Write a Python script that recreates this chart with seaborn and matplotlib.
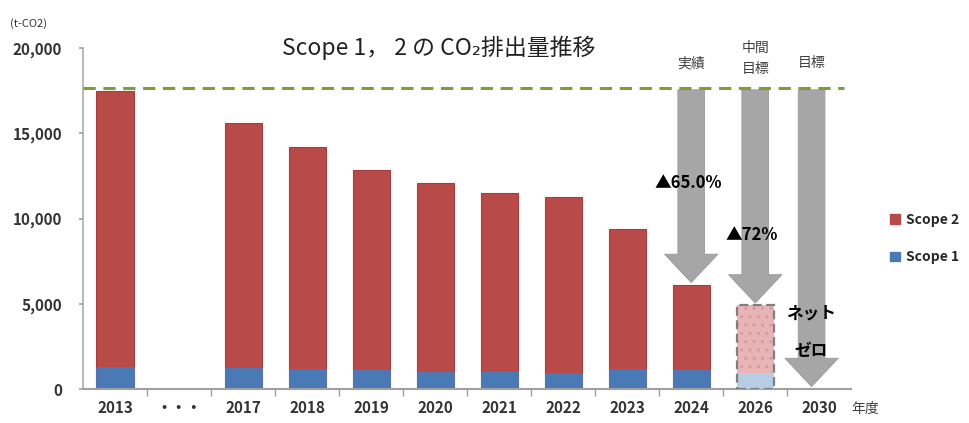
import numpy as np
import pandas as pd
import matplotlib.pyplot as plt
import matplotlib.patches as mpatches
import seaborn as sns

# Data (t-CO2)
years = ["2013", "・・・", "2017", "2018", "2019", "2020", "2021", "2022", "2023", "2024", "2026", "2030"]
actual_years = ["2013", "2017", "2018", "2019", "2020", "2021", "2022", "2023", "2024"]
total = [17500, 15610, 14180, 12850, 12110, 11520, 11290, 9390, 6100]
scope1 = [1290, 1230, 1170, 1110, 1000, 1060, 940, 1170, 1110]
target_year = "2026"
target_total = 4930
target_scope1 = 940
baseline = 17650
arrow_years = ["2024", "2026", "2030"]
arrow_tips = [6250, 5050, 150]
arrow_labels = ["実績", "中間\n目標", "目標"]
reduction_labels = ["▲65.0%", "▲72%"]

df = pd.DataFrame({"year": actual_years, "total": total, "scope1": scope1})

sns.set_theme(style="white")
plt.rcParams['font.family'] = ['Noto Sans CJK JP', 'DejaVu Sans']

red = "#b84a48"
blue = "#4a7ab6"
gray_arrow = "#a6a6a6"
text_c = "#333333"

fig = plt.figure(figsize=(9.7, 4.23), dpi=100)
ax = fig.add_axes([0.0856, 0.080, 0.792, 0.8065])

sns.barplot(data=df, x="year", y="total", order=years, color=red, saturation=1,
            width=0.58, ax=ax, edgecolor="#a83c3a", linewidth=0.8)
sns.barplot(data=df, x="year", y="scope1", order=years, color=blue, saturation=1,
            width=0.58, ax=ax, edgecolor=blue, linewidth=0.5)

# 2026 target bar
ti = years.index(target_year)
ax.bar(ti, target_scope1, width=0.58, color="#b8cce4", edgecolor="none", zorder=3)
ax.bar(ti, target_total - target_scope1, bottom=target_scope1, width=0.58,
       color="#e8b4b6", edgecolor="#d49a9c", hatch="..", linewidth=0, zorder=3)
ax.bar(ti, target_total, width=0.58, fill=False, edgecolor="#7f7f7f",
       linestyle=(0, (4, 2)), linewidth=1.6, zorder=4)

# baseline
ax.axhline(baseline, xmin=0, xmax=0.99, color="#76a03a", linestyle=(0, (4, 2.5)),
           linewidth=2.2, zorder=5)

# arrows
offsets = [0, 0, -0.12]
for yr, tip, off in zip(arrow_years, arrow_tips, offsets):
    xi = years.index(yr) + off
    ax.annotate("", xy=(xi, tip), xytext=(xi, baseline - 100),
                arrowprops=dict(arrowstyle="simple,head_width=3.2,head_length=1.7,tail_width=1.6",
                                fc=gray_arrow, ec="#999999", lw=0.6,
                                shrinkA=0, shrinkB=0), zorder=4)

# labels above arrows
lab_y = [19100, 19400, 19100]
for yr, lab, off, ly in zip(arrow_years, arrow_labels, offsets, lab_y):
    xi = years.index(yr) + off
    ax.text(xi, ly, lab, ha="center", va="center", fontsize=10, color="#404040",
            linespacing=1.6, clip_on=False, zorder=6)

ax.text(years.index("2024") - 0.05, 12100, reduction_labels[0], ha="center", va="center",
        fontsize=12, color="black", fontweight="bold", zorder=6)
ax.text(years.index("2026") - 0.05, 9050, reduction_labels[1], ha="center", va="center",
        fontsize=12, color="black", fontweight="bold", zorder=6)
ax.text(years.index("2030") - 0.13, 4420, "ネット", ha="center", va="center",
        fontsize=12, color="black", fontweight="bold", zorder=6)
ax.text(years.index("2030") - 0.12, 2250, "ゼロ", ha="center", va="center",
        fontsize=12, color="black", fontweight="bold", zorder=6)

# title
ax.text(5.05, 20000, "Scope 1， 2 の CO₂排出量推移", ha="center", va="center",
        fontsize=16.5, color="#222222", zorder=6)

# axes styling
ax.set_xlim(-0.5, len(years) - 0.5)
ax.set_ylim(0, 20000)
ax.set_yticks([0, 5000, 10000, 15000, 20000])
ax.set_yticklabels([f"{v:,}" for v in [0, 5000, 10000, 15000, 20000]],
                   fontsize=11, color=text_c, fontweight="bold")
ax.set_xticks(range(len(years)))
ax.set_xticklabels(years, fontsize=11, color=text_c, fontweight="bold")
ax.set_xticks(np.arange(0.5, len(years) - 0.5, 1), minor=True)
ax.tick_params(axis="x", which="major", length=0, pad=8)
ax.tick_params(axis="x", which="minor", length=5, color="#a0a0a0", width=1, direction="out", bottom=True)
ax.tick_params(axis="y", which="major", length=3, color="#a0a0a0", pad=12, left=True)
ax.set_xlabel("")
ax.set_ylabel("")
for s in ["top", "right"]:
    ax.spines[s].set_visible(False)
ax.spines["left"].set_color("#b0b0b0")
ax.spines["bottom"].set_color("#a0a0a0")
ax.spines["bottom"].set_linewidth(1.5)

fig.text(0.010, 0.945, "(t-CO2)", fontsize=8, color=text_c, ha="left", va="center")
fig.text(0.878, 0.032, "年度", fontsize=10, color="#404040", ha="left", va="center")

handles = [mpatches.Patch(color=red, label="Scope 2"),
           mpatches.Patch(color=blue, label="Scope 1")]
fig.legend(handles=handles, loc="center left", bbox_to_anchor=(0.905, 0.436),
           frameon=False, fontsize=10, handlelength=0.7, handleheight=0.7,
           handletextpad=0.4, labelspacing=1.7,
           prop={"weight": "bold", "size": 10})

fig.savefig("out.png", dpi=100)
